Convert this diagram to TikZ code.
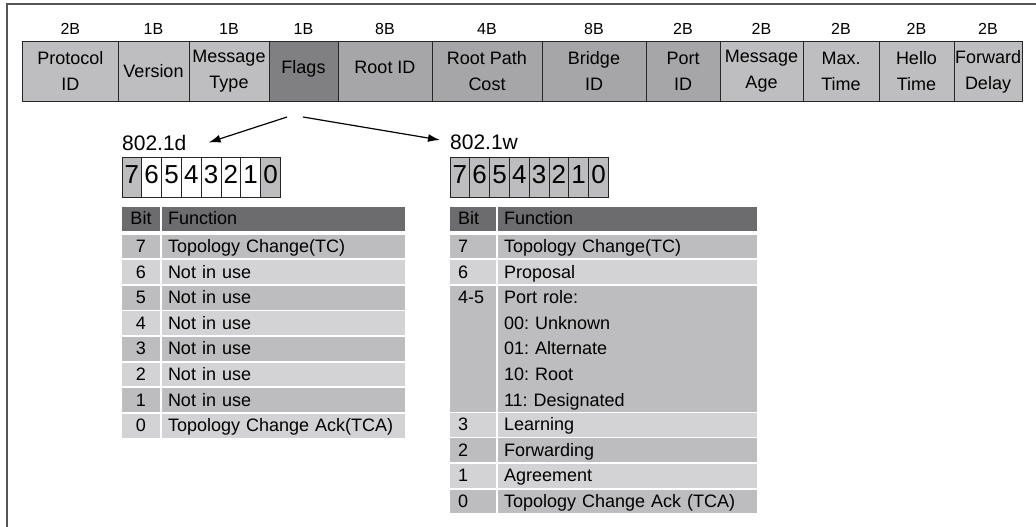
\documentclass[tikz,border=0pt]{standalone}
\usepackage{fontspec}
\setmainfont{Liberation Sans}
\usetikzlibrary{positioning,arrows.meta}

\definecolor{framegray}{RGB}{85,85,85}
\definecolor{fieldlight}{RGB}{190,190,192}
\definecolor{fieldmid}{RGB}{166,166,168}
\definecolor{fielddark}{RGB}{128,128,130}
\definecolor{hdrgray}{RGB}{108,108,110}
\definecolor{rowdark}{RGB}{189,189,191}
\definecolor{rowlight}{RGB}{211,211,213}

\begin{document}
\begin{tikzpicture}[x=1pt,y=-1pt,
  field/.style={draw=black!85,line width=1pt,fill=fieldlight,outer sep=0pt,inner sep=0pt,minimum height=59.3pt,align=center,font=\fontsize{18}{26}\selectfont},
  sizelbl/.style={inner sep=0pt,font=\fontsize{16}{18}\selectfont},
  verlbl/.style={inner sep=0pt,font=\fontsize{21}{24}\selectfont},
  bitbox/.style={draw=black!85,line width=1pt,fill=rowdark,outer sep=0pt,inner sep=0pt,minimum width=19.8pt,minimum height=40pt,text height=19.5pt,text depth=7pt,font=\fontsize{26}{26}\selectfont},
  cell/.style={outer sep=0pt,inner ysep=0pt,minimum height=23.8pt,text height=15pt,text depth=3pt,font=\fontsize{18}{25.6}\selectfont\frenchspacing},
  hdr/.style={cell,fill=hdrgray},
  dkrow/.style={cell,fill=rowdark},
  ltrow/.style={cell,fill=rowlight},
  tall/.style={minimum height=126pt,text height=18pt,text depth=108pt},
  bitd/.style={minimum width=38pt,inner xsep=0pt},
  funcd/.style={text width=231pt,inner xsep=6pt,align=left},
  bitw/.style={text width=30pt,inner xsep=8pt,align=left},
  funcw/.style={text width=247pt,inner xsep=6pt,align=left},
  flagarrow/.style={line width=1.2pt,-{Latex[length=12pt,width=8pt]}}
]
\useasboundingbox (0,0) rectangle (1036,527);
\draw[framegray,line width=2pt] (1036,4) -- (7,4) -- (7,527);

% BPDU fields
\node[field,minimum width=95.3pt,anchor=north west] (protoid) at (22.7,41.7) {Protocol\\ID};
\node[field,minimum width=71pt,right=0pt of protoid] (version) {Version};
\node[field,minimum width=80pt,right=0pt of version] (msgtype) {Message\\Type};
\node[field,fill=fielddark,minimum width=69pt,text depth=8pt,right=0pt of msgtype] (flags) {Flags};
\node[field,fill=fieldmid,minimum width=94pt,text depth=8pt,right=0pt of flags] (rootid) {Root ID};
\node[field,fill=fieldmid,minimum width=110pt,right=0pt of rootid] (pathcost) {Root Path\\Cost};
\node[field,fill=fieldmid,minimum width=104pt,right=0pt of pathcost] (bridgeid) {Bridge\\ID};
\node[field,fill=fieldmid,minimum width=74pt,right=0pt of bridgeid] (portid) {Port\\ID};
\node[field,minimum width=83pt,right=0pt of portid] (msgage) {Message\\Age};
\node[field,minimum width=76pt,right=0pt of msgage] (maxtime) {Max.\\Time};
\node[field,minimum width=75pt,right=0pt of maxtime] (hellotime) {Hello\\Time};
\node[field,minimum width=68pt,right=0pt of hellotime] (fwddelay) {Forward\\Delay};

\node[sizelbl,above=6.5pt of protoid] (protoidsz) {2B};
\node[sizelbl,above=6.5pt of version] (versionsz) {1B};
\node[sizelbl,above=6.5pt of msgtype] (msgtypesz) {1B};
\node[sizelbl,above=6.5pt of flags] (flagssz) {1B};
\node[sizelbl,above=6.5pt of rootid] (rootidsz) {8B};
\node[sizelbl,above=6.5pt of pathcost] (pathcostsz) {4B};
\node[sizelbl,above=6.5pt of bridgeid] (bridgeidsz) {8B};
\node[sizelbl,above=6.5pt of portid] (portidsz) {2B};
\node[sizelbl,above=6.5pt of msgage] (msgagesz) {2B};
\node[sizelbl,above=6.5pt of maxtime] (maxtimesz) {2B};
\node[sizelbl,above=6.5pt of hellotime] (hellotimesz) {2B};
\node[sizelbl,above=6.5pt of fwddelay] (fwddelaysz) {2B};

% 802.1d flags
\node[verlbl,anchor=west] (lbld) at (122,142.5) {802.1d};
\node[bitbox,anchor=north west] (d7) at (122,157) {7};
\node[bitbox,fill=white,right=0pt of d7] (d6) {6};
\node[bitbox,fill=white,right=0pt of d6] (d5) {5};
\node[bitbox,fill=white,right=0pt of d5] (d4) {4};
\node[bitbox,fill=white,right=0pt of d4] (d3) {3};
\node[bitbox,fill=white,right=0pt of d3] (d2) {2};
\node[bitbox,fill=white,right=0pt of d2] (d1) {1};
\node[bitbox,right=0pt of d1] (d0) {0};

\node[hdr,bitd,anchor=north west] (dhbit) at (122,207) {Bit};
\node[hdr,funcd,right=2pt of dhbit] (dhfun) {Function};
\node[dkrow,bitd,below=3.7pt of dhbit] (d7bit) {7};
\node[dkrow,funcd,right=2pt of d7bit] (d7fun) {Topology Change(TC)};
\node[ltrow,bitd,below=1.8pt of d7bit] (d6bit) {6};
\node[ltrow,funcd,right=2pt of d6bit] (d6fun) {Not in use};
\node[dkrow,bitd,below=1.8pt of d6bit] (d5bit) {5};
\node[dkrow,funcd,right=2pt of d5bit] (d5fun) {Not in use};
\node[ltrow,bitd,below=1.8pt of d5bit] (d4bit) {4};
\node[ltrow,funcd,right=2pt of d4bit] (d4fun) {Not in use};
\node[dkrow,bitd,below=1.8pt of d4bit] (d3bit) {3};
\node[dkrow,funcd,right=2pt of d3bit] (d3fun) {Not in use};
\node[ltrow,bitd,below=1.8pt of d3bit] (d2bit) {2};
\node[ltrow,funcd,right=2pt of d2bit] (d2fun) {Not in use};
\node[dkrow,bitd,below=1.8pt of d2bit] (d1bit) {1};
\node[dkrow,funcd,right=2pt of d1bit] (d1fun) {Not in use};
\node[ltrow,bitd,below=1.8pt of d1bit] (d0bit) {0};
\node[ltrow,funcd,right=2pt of d0bit] (d0fun) {Topology Change Ack(TCA)};

% 802.1w flags
\node[verlbl,anchor=west] (lblw) at (450,142.5) {802.1w};
\node[bitbox,anchor=north west] (w7) at (450,157) {7};
\node[bitbox,right=0pt of w7] (w6) {6};
\node[bitbox,right=0pt of w6] (w5) {5};
\node[bitbox,right=0pt of w5] (w4) {4};
\node[bitbox,right=0pt of w4] (w3) {3};
\node[bitbox,right=0pt of w3] (w2) {2};
\node[bitbox,right=0pt of w2] (w1) {1};
\node[bitbox,right=0pt of w1] (w0) {0};

\node[hdr,bitw,anchor=north west] (whbit) at (450,207) {Bit};
\node[hdr,funcw,right=2pt of whbit] (whfun) {Function};
\node[dkrow,bitw,below=3.7pt of whbit] (w7bit) {7};
\node[dkrow,funcw,right=2pt of w7bit] (w7fun) {Topology Change(TC)};
\node[ltrow,bitw,below=1.8pt of w7bit] (w6bit) {6};
\node[ltrow,funcw,right=2pt of w6bit] (w6fun) {Proposal};
\node[dkrow,bitw,tall,below=1.8pt of w6bit] (w45bit) {4-5};
\node[dkrow,funcw,tall,right=2pt of w45bit] (w45fun) {Port role:\\00: Unknown\\01: Alternate\\10: Root\\11: Designated};
\node[ltrow,bitw,below=1pt of w45bit] (w3bit) {3};
\node[ltrow,funcw,right=2pt of w3bit] (w3fun) {Learning};
\node[dkrow,bitw,below=1.8pt of w3bit] (w2bit) {2};
\node[dkrow,funcw,right=2pt of w2bit] (w2fun) {Forwarding};
\node[ltrow,bitw,below=1.8pt of w2bit] (w1bit) {1};
\node[ltrow,funcw,right=2pt of w1bit] (w1fun) {Agreement};
\node[dkrow,bitw,below=1.8pt of w1bit] (w0bit) {0};
\node[dkrow,funcw,right=2pt of w0bit] (w0fun) {Topology Change Ack (TCA)};

\draw[flagarrow] ([shift={(-16.5,16)}]flags.south) -- ([xshift=22pt]lbld.east);
\draw[flagarrow] ([shift={(-0.5,16)}]flags.south) -- ([xshift=-10pt,yshift=2.5pt]lblw.west);
\end{tikzpicture}
\end{document}
